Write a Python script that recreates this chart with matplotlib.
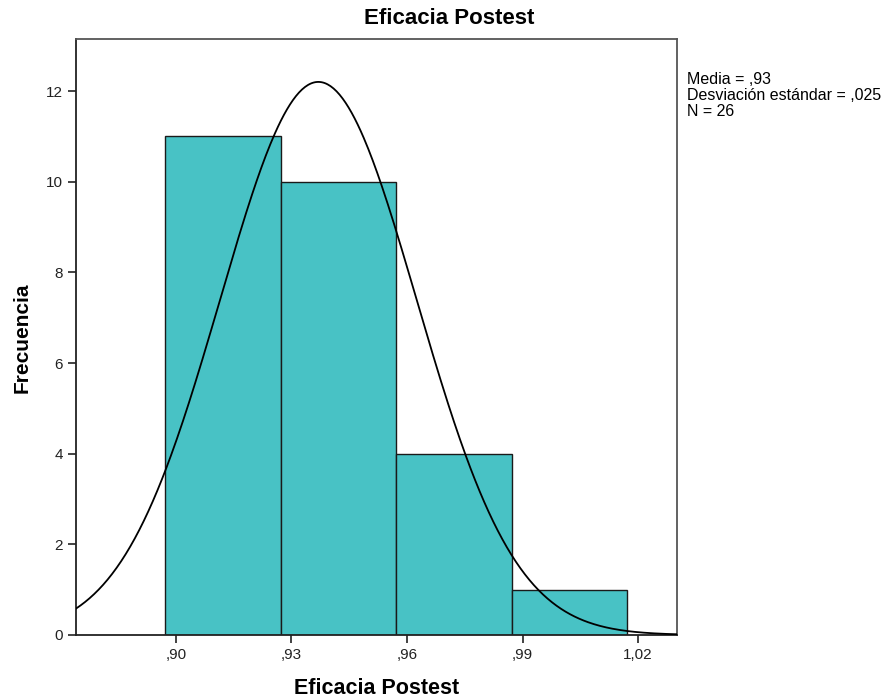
"""Histograma Eficacia Postest con curva normal"""
import numpy as np
import matplotlib
matplotlib.use("Agg")
import matplotlib.pyplot as plt

plt.rcParams["font.family"] = ["Liberation Sans", "DejaVu Sans"]

# datos
bin_edges = [0.8972, 0.9272, 0.9572, 0.9872, 1.0172]
counts = [11, 10, 4, 1]
curve_mean = 0.937
curve_sd = 0.0255
n_total = 26
x_ticks = [0.90, 0.93, 0.96, 0.99, 1.02]
x_tick_labels = [",90", ",93", ",96", ",99", "1,02"]
y_ticks = [0, 2, 4, 6, 8, 10, 12]
stats_text = "Media = ,93\nDesviación estándar = ,025\nN = 26"

fig = plt.figure(figsize=(8.82, 7), dpi=100)
ax = fig.add_axes([0.0862, 0.0929, 0.6814, 0.8514])

widths = np.diff(bin_edges)
ax.bar(bin_edges[:-1], counts, width=widths, align="edge",
       color="#48C2C5", edgecolor="#1a1a1a", linewidth=1.0, zorder=2)

# curva normal escalada al histograma
xs = np.linspace(0.8741, 1.0301, 400)
bw = widths[0]
ys = n_total * bw / (curve_sd * np.sqrt(2 * np.pi)) * np.exp(-0.5 * ((xs - curve_mean) / curve_sd) ** 2)
ax.plot(xs, ys, color="black", linewidth=1.3, zorder=3)

ax.set_xlim(0.8741, 1.0301)
ax.set_ylim(0, 13.15)
ax.set_xticks(x_ticks)
ax.set_xticklabels(x_tick_labels)
ax.set_yticks(y_ticks)
ax.tick_params(direction="out", length=6, width=1.2, labelsize=11, colors="#222222")
for side in ["left", "bottom"]:
    ax.spines[side].set_linewidth(1.3)
    ax.spines[side].set_color("#222222")
for side in ["top", "right"]:
    ax.spines[side].set_linewidth(1.3)
    ax.spines[side].set_color("#555555")

# titulos y etiquetas
fig.text(0.509, 0.973, "Eficacia Postest", ha="center", va="center",
         fontsize=16, fontweight="bold")
fig.text(0.4274, 0.017, "Eficacia Postest", ha="center", va="center",
         fontsize=15.5, fontweight="bold")
fig.text(0.025, 0.518, "Frecuencia", ha="center", va="center",
         rotation=90, fontsize=15, fontweight="bold")
fig.text(0.779, 0.897, stats_text, ha="left", va="top", fontsize=11.5,
         linespacing=1.1)

fig.savefig("out.png", dpi=100)
